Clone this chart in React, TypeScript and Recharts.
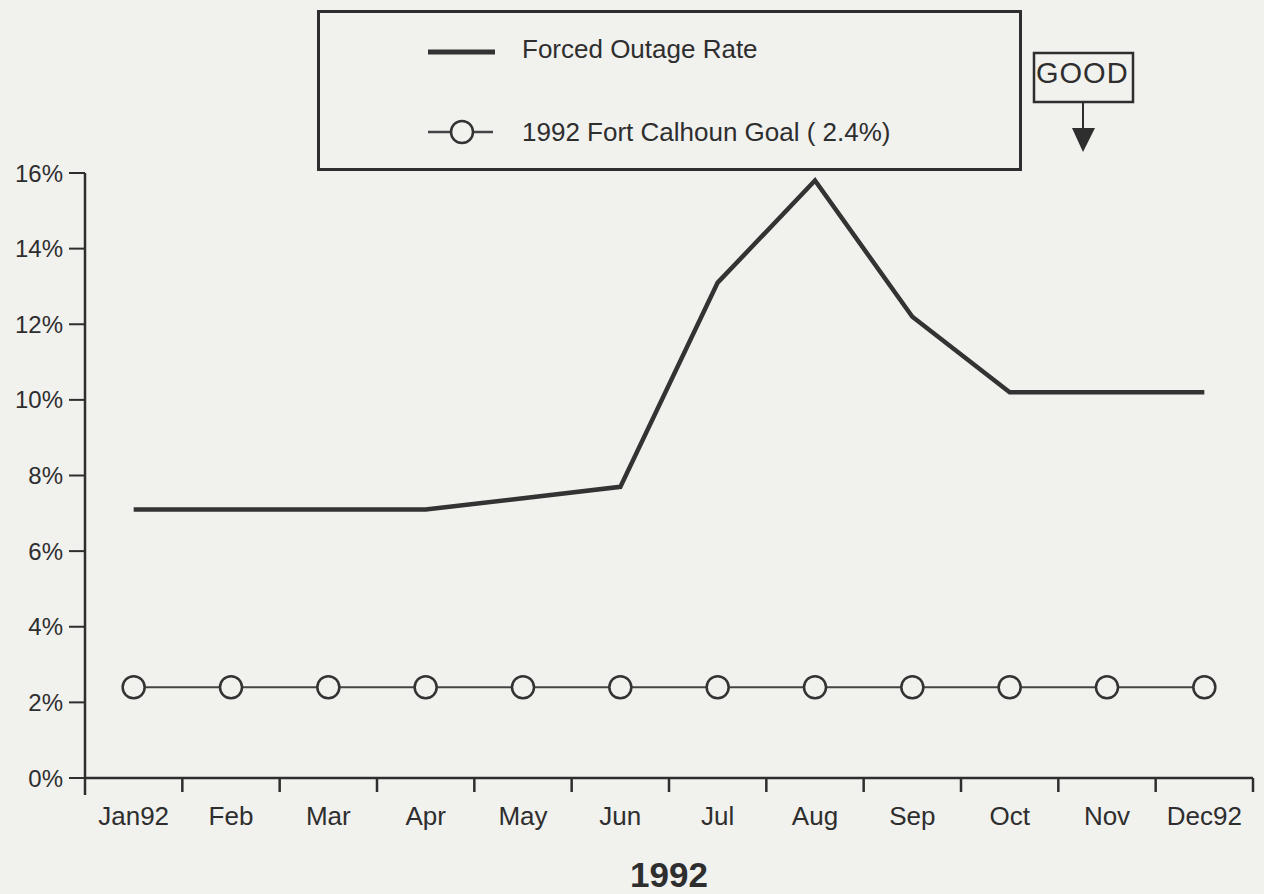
import React from 'react';
import { LineChart, Line, XAxis, YAxis } from 'recharts';

const months = ['Jan92', 'Feb', 'Mar', 'Apr', 'May', 'Jun', 'Jul', 'Aug', 'Sep', 'Oct', 'Nov', 'Dec92'];
const forcedOutageRate = [7.1, 7.1, 7.1, 7.1, 7.4, 7.7, 13.1, 15.8, 12.2, 10.2, 10.2, 10.2];
const goal = [2.4, 2.4, 2.4, 2.4, 2.4, 2.4, 2.4, 2.4, 2.4, 2.4, 2.4, 2.4];
const yTicks = [0, 2, 4, 6, 8, 10, 12, 14, 16];
const seriesNames = ['Forced Outage Rate', '1992 Fort Calhoun Goal ( 2.4%)'];
const xTitle = '1992';

const data = months.map((m, i) => ({ month: m, rate: forcedOutageRate[i], goal: goal[i] }));

const W = 1264;
const H = 894;
const XH = 116;
const M = { top: 173, right: 11, bottom: 0, left: 0 };
const YW = 85;
const PLOT_W = W - M.left - M.right - YW;
const BW = PLOT_W / months.length;
const INK = '#2e2e2e';
const BG = '#f1f1ee';
const FONT = '"Liberation Sans", Arial, Helvetica, sans-serif';

function XTick(props: any) {
  const { x, y, payload, index } = props;
  return (
    <g>
      <line x1={x - BW / 2} y1={y} x2={x - BW / 2} y2={y + (index === 0 ? 17 : 14)} stroke={INK} strokeWidth={2.5} />
      {index === months.length - 1 && (
        <line x1={x + BW / 2} y1={y} x2={x + BW / 2} y2={y + 14} stroke={INK} strokeWidth={2.5} />
      )}
      <text x={x} y={y + 47} textAnchor="middle" fontSize={26} fontFamily={FONT} fill={INK}>
        {payload.value}
      </text>
    </g>
  );
}

export default function App() {
  return (
    <div style={{ position: 'absolute', left: 0, top: 0, width: W, height: H, background: BG, fontFamily: FONT }}>
      <LineChart width={W} height={H} data={data} margin={M}>
        <XAxis
          dataKey="month"
          scale="band"
          height={XH}
          axisLine={{ stroke: INK, strokeWidth: 2.5 }}
          tickLine={false}
          tickSize={0}
          tickMargin={0}
          interval={0}
          tick={<XTick />}
          label={{ value: xTitle, position: 'insideBottom', offset: 7, fontSize: 35, fontWeight: 'bold', fill: INK, fontFamily: FONT }}
        />
        <YAxis
          width={YW}
          domain={[0, 16]}
          ticks={yTicks}
          tickFormatter={(v: number) => `${v}%`}
          axisLine={{ stroke: INK, strokeWidth: 2.5 }}
          tickLine={{ stroke: INK, strokeWidth: 2 }}
          tickSize={16}
          tickMargin={6}
          tick={{ fontSize: 24, fill: INK, fontFamily: FONT }}
          allowDataOverflow
        />
        <Line
          dataKey="goal"
          name={seriesNames[1]}
          stroke="#444"
          strokeWidth={2}
          dot={{ r: 11, stroke: '#333', strokeWidth: 2.5, fill: BG }}
          isAnimationActive={false}
        />
        <Line
          dataKey="rate"
          name={seriesNames[0]}
          stroke="#333"
          strokeWidth={4.5}
          dot={false}
          isAnimationActive={false}
        />
      </LineChart>

      <div style={{ position: 'absolute', left: 317, top: 10, width: 699, height: 155, border: `3px solid ${INK}` }}>
        <svg width={699} height={155} style={{ position: 'absolute', left: 0, top: 0 }}>
          <line x1={108} y1={39} x2={175} y2={39} stroke="#333" strokeWidth={5} />
          <text x={202} y={45} fontSize={26} fontFamily={FONT} fill={INK}>{seriesNames[0]}</text>
          <line x1={108} y1={119} x2={173} y2={119} stroke="#444" strokeWidth={2.5} />
          <circle cx={142} cy={119} r={11} stroke="#333" strokeWidth={2.5} fill={BG} />
          <text x={202} y={128} fontSize={26} fontFamily={FONT} fill={INK}>{seriesNames[1]}</text>
        </svg>
      </div>
      <svg width={130} height={170} style={{ position: 'absolute', left: 1020, top: 0 }}>
        <text x={16} y={83} fontSize={29} fontFamily={FONT} fill={INK} letterSpacing={1}>GOOD</text>
        <rect x={14} y={53} width={99} height={49} fill="none" stroke={INK} strokeWidth={2.5} />
        <line x1={63} y1={102} x2={63} y2={132} stroke={INK} strokeWidth={2} />
        <polygon points="52,128 75,128 63,152" fill={INK} />
      </svg>
    </div>
  );
}
